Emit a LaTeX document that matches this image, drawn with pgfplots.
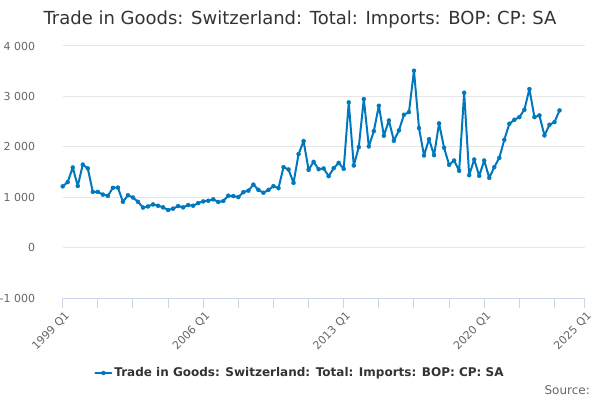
\documentclass[border=0pt]{standalone}
\usepackage{pgfplots}
\pgfplotsset{compat=1.18}
\usepackage{fontspec}
\setmainfont{DejaVu Sans}
\definecolor{series}{RGB}{0,120,190}
\definecolor{gridc}{HTML}{E6E6E6}
\definecolor{axisc}{HTML}{CCD6EB}
\definecolor{labc}{HTML}{666666}
\definecolor{titc}{HTML}{333333}
\begin{document}
\begin{tikzpicture}
\path[use as bounding box] (0,0) rectangle (600bp,400bp);
\begin{axis}[
  scale only axis,
  width=521.9bp, height=252bp,
  at={(62.7bp,102bp)}, anchor=south west,
  xmin=0, xmax=104, ymin=-1000, ymax=4000,
  axis x line*=bottom, axis y line*=left,
  y axis line style={draw=none},
  x axis line style={draw=axisc, line width=1bp},
  xtick={0,28,56,84,104},
  xticklabels={1999 Q1,2006 Q1,2013 Q1,2020 Q1,2025 Q1},
  minor xtick={7,14,21,35,42,49,63,70,77,91,98},
  ytick={-1000,0,1000,2000,3000,4000},
  yticklabels={-1 000,0,1 000,2 000,3 000,4 000},
  tick align=outside,
  major tick length=10bp,
  minor tick length=10bp,
  xtick style={draw=axisc, line width=1bp},
  minor x tick style={draw=axisc, line width=1bp},
  ytick style={draw=none},
  ymajorgrids,
  grid style={draw=gridc, line width=1bp},
  xticklabel style={rotate=45, anchor=north east, font=\fontsize{11bp}{13bp}\selectfont, text=labc, inner sep=1bp, yshift=-2bp},
  yticklabel style={font=\fontsize{11bp}{13bp}\selectfont, text=labc, anchor=east, xshift=-14bp},
  legend style={at={(0.4547,-0.2976)}, anchor=center, draw=none, fill=none,
    font=\bfseries\fontsize{12bp}{14bp}\selectfont, text=titc},
  legend image code/.code={\draw[mark repeat=2,mark phase=2,#1] plot coordinates {(0bp,0bp)(8bp,0bp)(16bp,0bp)};},
  clip=false,
]
\addplot[color=series, line width=2bp, line join=round, line cap=round, mark=*, mark size=2bp, mark options={solid, fill=series, draw=series, line width=0.4bp}] table[x=i, y=v] {
i v
0 1215
1 1300
2 1590
3 1222
4 1647
5 1571
6 1105
7 1105
8 1052
9 1026
10 1186
11 1190
12 908
13 1039
14 994
15 908
16 794
17 817
18 857
19 830
20 799
21 745
22 773
23 825
24 799
25 844
26 831
27 883
28 916
29 929
30 958
31 905
32 925
33 1030
34 1022
35 1002
36 1100
37 1130
38 1250
39 1145
40 1088
41 1145
42 1219
43 1179
44 1596
45 1550
46 1285
47 1854
48 2113
49 1543
50 1702
51 1556
52 1570
53 1417
54 1576
55 1682
56 1563
57 2881
58 1629
59 1993
60 2947
61 2007
62 2311
63 2815
64 2219
65 2523
66 2119
67 2325
68 2636
69 2689
70 3510
71 2371
72 1828
73 2152
74 1834
75 2464
76 1980
77 1642
78 1728
79 1523
80 3073
81 1437
82 1748
83 1424
84 1728
85 1384
86 1596
87 1781
88 2139
89 2457
90 2536
91 2589
92 2735
93 3146
94 2589
95 2623
96 2225
97 2437
98 2490
99 2722
};
\addlegendentry{Trade in Goods: Switzerland: Total: Imports: BOP: CP: SA}
\end{axis}
\node[anchor=base, font=\fontsize{18bp}{22bp}\selectfont, text=titc] at (300bp,375.7bp) {Trade in Goods: Switzerland: Total: Imports: BOP: CP: SA};
\node[anchor=base east, font=\fontsize{12bp}{14bp}\selectfont, text=labc, inner sep=0pt] at (590bp,6bp) {Source:};
\end{tikzpicture}
\end{document}
